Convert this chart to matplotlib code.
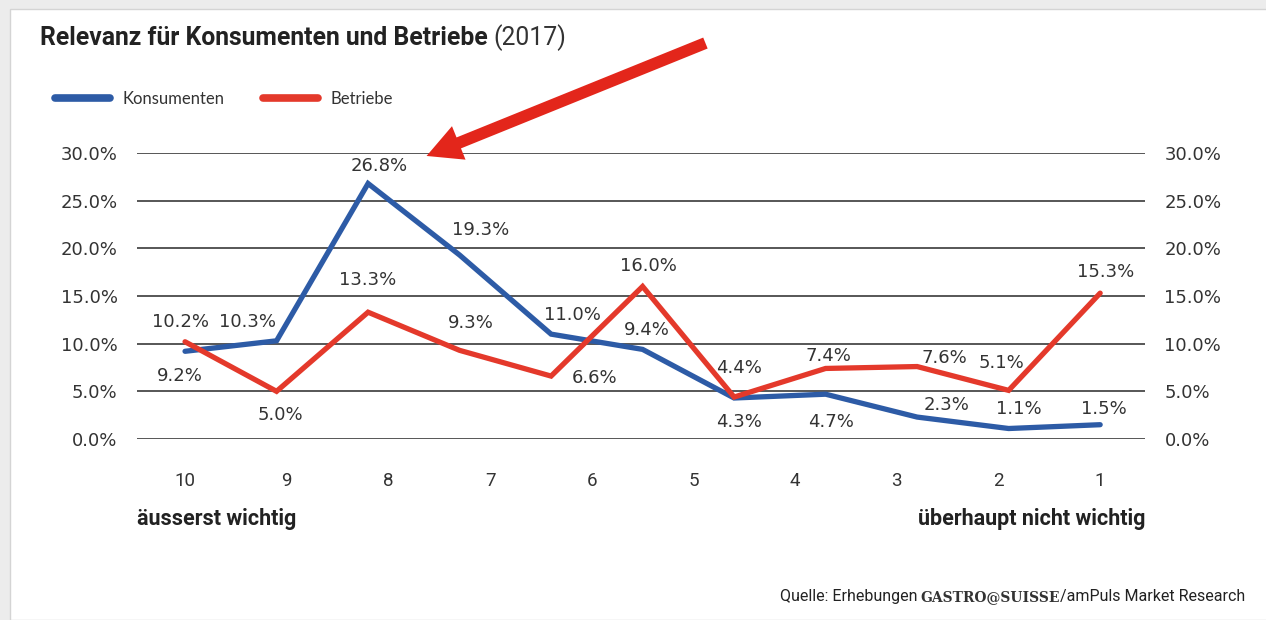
import matplotlib
matplotlib.use("Agg")
import matplotlib.pyplot as plt
from matplotlib.patches import Rectangle, FancyArrowPatch
import numpy as np

# Data
scale_labels = ["10", "9", "8", "7", "6", "5", "4", "3", "2", "1"]
konsumenten = [9.2, 10.3, 26.8, 19.3, 11.0, 9.4, 4.3, 4.7, 2.3, 1.1, 1.5]
betriebe = [10.2, 5.0, 13.3, 9.3, 6.6, 16.0, 4.4, 7.4, 7.6, 5.1, 15.3]
y_ticks = [0, 5, 10, 15, 20, 25, 30]

# label offsets (pixels) relative to each point
off_k = [(-5, -25), (-29, 19), (11, 18), (21, 25), (21, 19), (4, 19),
         (5, -24), (5, -28), (29, 12), (10, 20), (4, 16)]
off_b = [(-5, 20), (4, -24), (0, 32), (11, 27), (43, -2), (6, 20),
         (5, 29), (3, 12), (27, 9), (-7, 27), (5, 21)]

blue = "#2d5ba6"
red = "#e4392b"
txt = "#333333"
num_font = ["DejaVu Sans"]
leg_font = ["Lato", "DejaVu Sans"]
cond_font = ["Roboto", "DejaVu Sans"]

W, H = 1266, 620
fig = plt.figure(figsize=(W / 100, H / 100), dpi=100)
fig.patch.set_facecolor("#ececec")
fig.add_artist(Rectangle((10 / W, 0), 1, 1 - 9 / H, transform=fig.transFigure,
                         facecolor="white", edgecolor="#d4d4d4", lw=1, zorder=0))

ax = fig.add_axes([137 / W, 1 - 439 / H, (1145 - 137) / W, (439 - 153) / H])
ax.set_facecolor("none")

x = np.arange(len(konsumenten))
l1, = ax.plot(x, konsumenten, color=blue, lw=3.8, solid_joinstyle="miter",
              solid_capstyle="round", label="Konsumenten", zorder=3)
l2, = ax.plot(x, betriebe, color=red, lw=3.8, solid_joinstyle="miter",
              solid_capstyle="round", label="Betriebe", zorder=4)

for xi, v, o in zip(x, konsumenten, off_k):
    ax.annotate(f"{v:.1f}%", (xi, v), xytext=o, textcoords="offset pixels",
                ha="center", va="center", fontsize=13, color=txt, family=num_font)
for xi, v, o in zip(x, betriebe, off_b):
    ax.annotate(f"{v:.1f}%", (xi, v), xytext=o, textcoords="offset pixels",
                ha="center", va="center", fontsize=13, color=txt, family=num_font)

ax.set_xlim(-0.525, 10.49)
ax.set_ylim(0, 30)
ax.set_yticks(y_ticks)
ax.set_yticklabels([f"{t:.1f}%" for t in y_ticks], family=num_font)
ax.set_xticks(np.linspace(0, len(konsumenten) - 1, len(scale_labels)))
ax.set_xticklabels(scale_labels, family=cond_font)
ax.tick_params(axis="y", length=0, pad=14, labelsize=13, labelcolor=txt,
               labelright=True)
ax.tick_params(axis="x", length=0, pad=24, labelsize=13.5, labelcolor=txt)
for s in ax.spines.values():
    s.set_visible(False)
ax.yaxis.grid(True, color="#3a3a3a", lw=1.2)
ax.set_axisbelow(True)

leg = ax.legend(handles=[l1, l2], loc="center left", ncol=2, frameon=False,
                bbox_to_anchor=(55 / W, 1 - 99 / H), bbox_transform=fig.transFigure,
                borderpad=0, borderaxespad=0, handlelength=3.3, handletextpad=0.75,
                columnspacing=2.3, prop={"family": leg_font, "size": 12})
for t in leg.get_texts():
    t.set_color(txt)
for ln in leg.get_lines():
    ln.set_linewidth(5.5)

# title
title = fig.text(40 / W, 1 - 38 / H, "Relevanz für Konsumenten und Betriebe",
                 fontsize=17.8, fontweight="bold", family=cond_font, color="#222222",
                 va="center", ha="left")
fig.canvas.draw()
r = fig.canvas.get_renderer()
bb = title.get_window_extent(r)
fig.text((bb.x1 + 6) / W, 1 - 38 / H, "(2017)", fontsize=17.8, family=cond_font,
         color=txt, va="center", ha="left")

fig.text(137 / W, 1 - 519 / H, "äusserst wichtig", fontsize=15.5, fontweight="bold",
         family=cond_font, color="#222222", va="center", ha="left")
fig.text(1145 / W, 1 - 519 / H, "überhaupt nicht wichtig", fontsize=15.5,
         fontweight="bold", family=cond_font, color="#222222", va="center", ha="right")

# source line, built right to left
t3 = fig.text(1245 / W, 1 - 597 / H, "/amPuls Market Research", fontsize=11.5,
              family=cond_font, color="#222222", va="center", ha="right")
fig.canvas.draw()
b3 = t3.get_window_extent(r)
t2 = fig.text(b3.x0 / W, 1 - 597 / H, "GASTRO@SUISSE", fontsize=10,
              fontweight="bold", family=["DejaVu Serif"], color="#333333",
              va="center", ha="right")
fig.canvas.draw()
b2 = t2.get_window_extent(r)
fig.text((b2.x0 - 3) / W, 1 - 597 / H, "Quelle: Erhebungen", fontsize=11.5,
         family=cond_font, color="#222222", va="center", ha="right")

# red arrow
arrow = FancyArrowPatch((708, H - 42), (424, H - 157), transform=None,
                        arrowstyle="simple,head_length=2.5,head_width=2.6,tail_width=0.85",
                        mutation_scale=10, color="#e3261b", lw=0, zorder=10)
fig.add_artist(arrow)

fig.savefig("out.png", dpi=100)
